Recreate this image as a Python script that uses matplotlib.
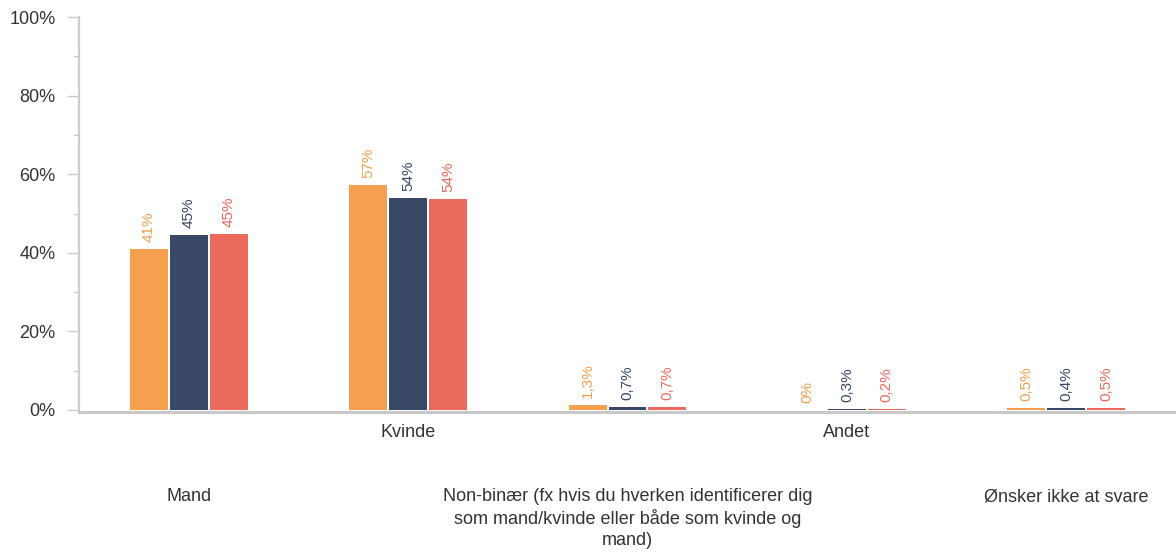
import matplotlib.pyplot as plt
import numpy as np

plt.rcParams['font.family'] = ['Liberation Sans', 'DejaVu Sans']

categories = ['Mand', 'Kvinde',
              'Non-binær (fx hvis du hverken identificerer dig\nsom mand/kvinde eller både som kvinde og\nmand)',
              'Andet', 'Ønsker ikke at svare']
s1 = [41.0, 57.2, 1.3, 0.0, 0.5]
s2 = [44.6, 53.9, 0.7, 0.3, 0.4]
s3 = [44.8, 53.7, 0.7, 0.2, 0.5]
labels1 = ['41%', '57%', '1,3%', '0%', '0,5%']
labels2 = ['45%', '54%', '0,7%', '0,3%', '0,4%']
labels3 = ['45%', '54%', '0,7%', '0,2%', '0,5%']
colors = ['#F4A04F', '#394866', '#EB6A5C']

fig = plt.figure(figsize=(11.76, 5.54), dpi=100)
ax = fig.add_axes([79/1176, 144/554, 1 - 79/1176, 393/554])

x = np.arange(len(categories))
w = 0.173
off = 0.182
for i, (vals, labs) in enumerate([(s1, labels1), (s2, labels2), (s3, labels3)]):
    xs = x + (i - 1) * off
    ax.bar(xs, vals, width=w, color=colors[i], zorder=3)
    for xi, v, lab in zip(xs, vals, labs):
        ax.annotate(lab, (xi, v), xytext=(0, 5), textcoords='offset points',
                    rotation=90, ha='center', va='bottom', fontsize=11,
                    color=colors[i])

ax.set_xlim(-0.5, 4.5)
ax.set_ylim(0, 100)
ax.set_yticks(np.arange(0, 101, 20))
ax.set_yticks(np.arange(10, 100, 20), minor=True)
ax.set_yticklabels([f'{v}%' for v in range(0, 101, 20)], fontsize=13, color='#333333')
ax.tick_params(axis='y', which='major', length=9, width=1, color='#cccccc', pad=8)
ax.tick_params(axis='y', which='minor', length=4, width=1, color='#cccccc')
ax.set_xticks([])

for s in ['top', 'right']:
    ax.spines[s].set_visible(False)
ax.spines['left'].set_color('#cccccc')
ax.spines['left'].set_linewidth(1.6)
ax.spines['bottom'].set_color('#c8c8c8')
ax.spines['bottom'].set_linewidth(2.2)
ax.spines['bottom'].set_position(('outward', 1.5))

trans = ax.get_xaxis_transform()
for i, cat in enumerate(categories):
    ypix = -14 if i % 2 == 1 else -78
    ax.annotate(cat, (i, 0), xycoords=trans, xytext=(0, ypix),
                textcoords='offset pixels', ha='center', va='top',
                fontsize=13, color='#333333', linespacing=1.3,
                annotation_clip=False)

fig.savefig('out.png', dpi=100)
